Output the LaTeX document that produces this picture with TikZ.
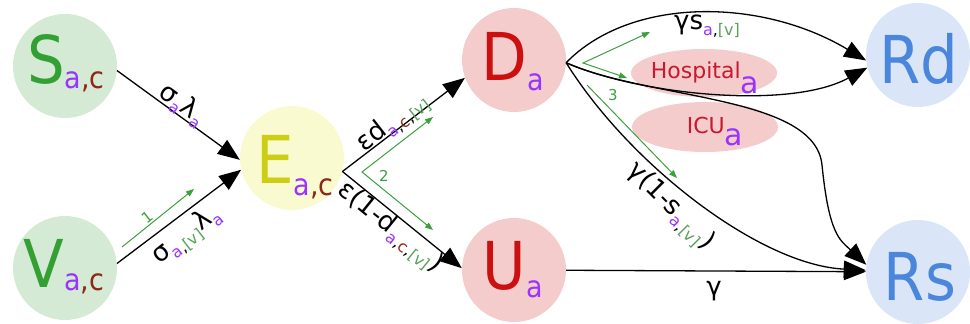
\documentclass[tikz,border=0pt]{standalone}
\usepackage{fontspec}
\setmainfont{DejaVu Sans}
\newfontfamily\bigfont[FakeStretch=0.9]{DejaVu Sans}
\usetikzlibrary{arrows.meta,shapes.geometric}
\definecolor{fgreen}{RGB}{213,234,212}
\definecolor{fyellow}{RGB}{250,250,208}
\definecolor{fpink}{RGB}{244,204,204}
\definecolor{fblue}{RGB}{218,230,248}
\definecolor{tgreen}{RGB}{51,160,51}
\definecolor{tyellow}{RGB}{205,205,20}
\definecolor{tred}{RGB}{204,16,16}
\definecolor{tblue}{RGB}{74,134,220}
\definecolor{tpurp}{RGB}{153,51,255}
\definecolor{tbrn}{RGB}{140,40,20}
\definecolor{tvg}{RGB}{90,160,90}
\definecolor{agreen}{RGB}{60,160,60}
\definecolor{hred}{RGB}{200,25,45}
\newcommand\BL[2]{{\bigfont\fontsize{66}{70}\selectfont\textcolor{#1}{#2}}}
\newcommand\BS[2]{\raisebox{#1}{\bigfont\fontsize{30}{32}\selectfont #2}}
\newcommand\ES[1]{\raisebox{-6pt}{\fontsize{16}{18}\selectfont #1}}
\newcommand\Pa{\textcolor{tpurp}{a}}
\newcommand\Cc{\textcolor{tbrn}{c}}
\newcommand\Vv{\textcolor{tvg}{[v]}}
\begin{document}
\begin{tikzpicture}[x=1pt,y=1pt,
  comp/.style={circle, minimum size=104pt, inner sep=0pt, draw=none},
  oval/.style={ellipse, inner sep=0pt, draw=none, fill=fpink},
  bigtxt/.style={inner sep=0pt, anchor=base},
  flow/.style={line width=1.3pt, -{Triangle[length=22pt,width=17pt]}},
  gflow/.style={line width=1pt, draw=agreen, -{Triangle[length=8pt,width=6pt]}},
  gflowtwo/.style={line width=1pt, draw=agreen, {Triangle[length=8pt,width=6pt]}-{Triangle[length=8pt,width=6pt]}},
  elab/.style={inner sep=0pt, font=\fontsize{26}{28}\selectfont},
  glab/.style={inner sep=0pt, text=agreen, font=\fontsize{15}{17}\selectfont},
  htxt/.style={inner sep=0pt, anchor=base, font=\fontsize{22}{24}\selectfont}
]
\useasboundingbox (0,0) rectangle (970,-324);
% compartments
\node[comp, fill=fgreen] (S) at (65,-66) {};
\node[comp, fill=fgreen] (V) at (65,-268) {};
\node[comp, fill=fyellow] (E) at (292,-158) {};
\node[comp, fill=fpink] (D) at (514,-60) {};
\node[comp, fill=fpink] (U) at (514,-270) {};
\node[comp, fill=fblue] (Rd) at (918,-55) {};
\node[comp, fill=fblue] (Rs) at (918,-272) {};
\node[oval, minimum width=146pt, minimum height=48pt] (H) at (704,-73) {};
\node[oval, minimum width=146pt, minimum height=50pt] (I) at (705,-127) {};
% compartment texts
\node[bigtxt] (St) at (66,-83) {\BL{tgreen}{S}\BS{-5pt}{\textcolor{tpurp}{a}\textcolor{tbrn}{,c}}};
\node[bigtxt] (Vt) at (64,-287) {\BL{tgreen}{V}\BS{-3pt}{\textcolor{tpurp}{a}\textcolor{tbrn}{,c}}};
\node[bigtxt] (Et) at (295,-183) {\BL{tyellow}{E}\BS{-12pt}{\textcolor{tpurp}{a}\textcolor{tbrn}{,c}}};
\node[bigtxt] (Dt) at (513,-80) {\BL{tred}{D}\BS{-10pt}{\textcolor{tpurp}{a}}};
\node[bigtxt] (Ut) at (513,-289) {\BL{tred}{U}\BS{-8pt}{\textcolor{tpurp}{a}}};
\node[bigtxt] (Rdt) at (919,-83) {\BL{tblue}{Rd}};
\node[bigtxt] (Rst) at (920,-300) {\BL{tblue}{Rs}};
\node[htxt] (Ht) at (705,-78) {\textcolor{hred}{Hospital}\raisebox{-15pt}{\fontsize{30}{32}\selectfont\textcolor{tpurp}{a}}};
\node[htxt] (It) at (715,-133) {\textcolor{hred}{ICU}\raisebox{-12pt}{\fontsize{30}{32}\selectfont\textcolor{tpurp}{a}}};
% flows
\coordinate (bend) at (822,-165);
\draw[flow] (S.-5) -- (E.182);
\draw[flow] (V.5) -- (E.193);
\draw[flow] (E.-15) -- (D.200);
\draw[flow] (E.-15) -- (U.178);
\draw[flow] (D.-3) .. controls (630,3) and (760,3) .. (Rd.186);
\draw[flow] (D.-3) .. controls (640,-95) and (790,-110) .. (Rd.194);
\draw[flow] (D.-3) .. controls (650,-100) and (815,-95) .. (bend) .. controls (829,-235) and (840,-240) .. (Rs.172);
\draw[flow] (D.-3) .. controls (630,-165) and (760,-265) .. (Rs.178);
\draw[flow] (U) -- (Rs);
% green annotations
\coordinate (g1s) at (122,-247);
\coordinate (g1e) at (194,-189);
\coordinate (g2a) at (433,-117);
\coordinate (g2v) at (362,-172);
\coordinate (g2b) at (433,-230);
\coordinate (g3a) at (650,-32);
\coordinate (g3v) at (583,-63);
\coordinate (g3b) at (627,-78);
\coordinate (g4s) at (587,-85);
\coordinate (g4e) at (677,-178);
\draw[gflow] (g1s) -- (g1e);
\draw[gflowtwo] (g2a) -- (g2v) -- (g2b);
\draw[gflowtwo] (g3a) -- (g3v) -- (g3b);
\draw[gflow] (g4s) -- (g4e);
\node[glab, rotate=38] (n1) at (147,-217) {1};
\node[glab] (n2) at (384,-176) {2};
\node[glab] (n3) at (613,-95) {3};
% rate labels
\node[elab, rotate=-36] (lSE) at (182,-105) {σ\ES{\Pa}λ\ES{\Pa}};
\node[elab, rotate=38] (lVE) at (187,-236) {σ\ES{\Pa,\Vv}λ\ES{\Pa}};
\node[elab, rotate=38] (lED) at (393,-123) {εd\ES{\Pa,\Cc,\Vv}};
\node[elab, rotate=-39] (lEU) at (390,-228) {ε(1-d\ES{\Pa,\Cc,\Vv})};
\node[elab, rotate=-45] (lDR) at (670,-207) {γ(1-s\ES{\Pa,\Vv})};
\node[elab] (lDd) at (707,-26) {γs\ES{\Pa,\Vv}};
\node[elab] (lUR) at (714,-291) {γ};
\end{tikzpicture}
\end{document}
